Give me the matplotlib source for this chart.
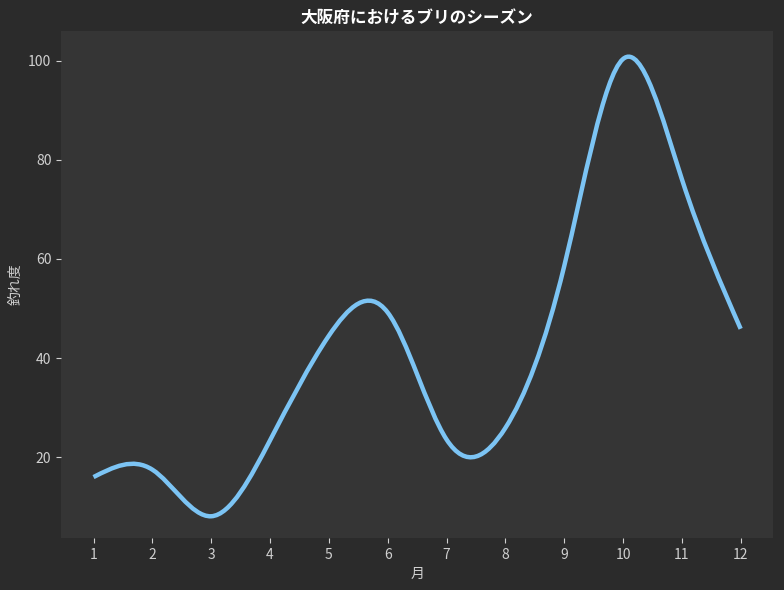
import numpy as np
import matplotlib

matplotlib.use("Agg")

import matplotlib.pyplot as plt  # noqa: E402
from matplotlib.path import Path  # noqa: E402
from matplotlib.patches import PathPatch  # noqa: E402

plt.rcParams["font.family"] = ["Noto Sans CJK JP", "DejaVu Sans"]

months = [1, 2, 3, 4, 5, 6, 7, 8, 9, 10, 11, 12]
catch_level = [16.0, 17.5, 8.1, 23.4, 44.5, 49.2, 23.6, 25.9, 58.5, 100.3, 76.1, 45.9]

FIG_BG = "#2b2b2b"
AX_BG = "#353535"
LINE_COLOR = "#7cc4f4"
TEXT_COLOR = "#d0d0d0"


def spline_path(xs, ys):
    """Natural cubic spline through the points, expressed as Bezier segments."""
    x = np.asarray(xs, dtype=float)
    y = np.asarray(ys, dtype=float)
    n = len(x)
    h = 1.0  # months are evenly spaced
    a = np.zeros((n, n))
    b = np.zeros(n)
    a[0, 0] = 1
    a[-1, -1] = 1
    for i in range(1, n - 1):
        a[i, i - 1:i + 2] = [1, 4, 1]
        b[i] = 6 * (y[i - 1] - 2 * y[i] + y[i + 1]) / h ** 2
    m2 = np.linalg.solve(a, b)
    slopes = np.empty(n)
    for i in range(n - 1):
        slopes[i] = (y[i + 1] - y[i]) / h - h * (2 * m2[i] + m2[i + 1]) / 6
    slopes[-1] = (y[-1] - y[-2]) / h + h * (m2[-2] + 2 * m2[-1]) / 6

    verts = [(x[0], y[0])]
    codes = [Path.MOVETO]
    for i in range(n - 1):
        d = (x[i + 1] - x[i]) / 3
        verts += [
            (x[i] + d, y[i] + slopes[i] * d),
            (x[i + 1] - d, y[i + 1] - slopes[i + 1] * d),
            (x[i + 1], y[i + 1]),
        ]
        codes += [Path.CURVE4] * 3
    return Path(verts, codes)


fig = plt.figure(figsize=(7.84, 5.90), dpi=100, facecolor=FIG_BG)
ax = fig.add_axes([0.078, 0.088, 0.908, 0.859], facecolor=AX_BG)

curve = PathPatch(spline_path(months, catch_level), fill=False,
                  edgecolor=LINE_COLOR, linewidth=3.2, capstyle="butt",
                  transform=ax.transData)
ax.add_patch(curve)

ax.set_xlim(0.45, 12.55)
ax.set_ylim(3.7, 105.9)
ax.set_xticks(months)
ax.set_yticks([20, 40, 60, 80, 100])

for spine in ax.spines.values():
    spine.set_visible(False)
ax.tick_params(colors=TEXT_COLOR, labelsize=10, length=3.5, width=0.8)

ax.set_title("大阪府におけるブリのシーズン", color="white", fontsize=12,
             fontweight="bold", pad=6)
ax.set_xlabel("月", color=TEXT_COLOR, fontsize=10)
ax.set_ylabel("釣れ度", color=TEXT_COLOR, fontsize=10)

fig.savefig("out.png", dpi=100, facecolor=FIG_BG)
